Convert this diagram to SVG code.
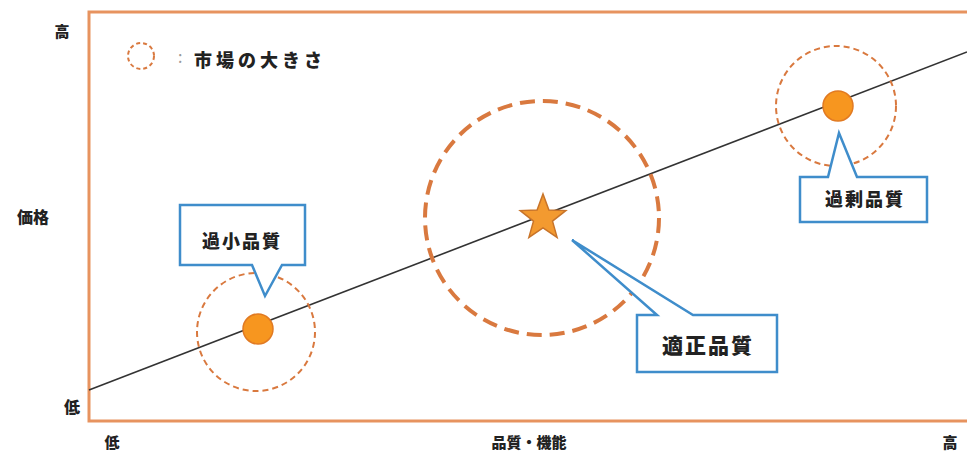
<svg xmlns="http://www.w3.org/2000/svg" width="967" height="454" viewBox="0 0 967 454">
<style>
.ax{font-family:"Noto Sans CJK JP","Noto Sans",sans-serif;font-weight:900;fill:#222;text-anchor:middle}
.lbl{font-family:"Noto Sans CJK JP","Noto Sans",sans-serif;font-weight:900;fill:#222;text-anchor:middle;letter-spacing:2px}
.call{fill:#fff;stroke:#3F8DCB;stroke-width:2.5;stroke-linejoin:miter}
.mkt{fill:none;stroke:#D9793F}
.dot{fill:#F7961F;stroke:#E17A22;stroke-width:1.5}
</style>
<rect x="0" y="0" width="967" height="454" fill="#fff"/>
<g id="frame">
<rect x="89" y="12" width="900" height="409" fill="#fff" stroke="#E7935F" stroke-width="3"/>
</g>
<g id="axis-labels">
<text class="ax" x="62" y="37" font-size="15">高</text>
<text class="ax" x="33" y="223" font-size="16">価格</text>
<text class="ax" x="72" y="413" font-size="16">低</text>
<text class="ax" x="112" y="448" font-size="15">低</text>
<text class="ax" x="529" y="448" font-size="15">品質・機能</text>
<text class="ax" x="950" y="448" font-size="15">高</text>
</g>
<g id="legend">
<circle cx="141" cy="56" r="13" class="mkt" stroke-width="2" stroke-dasharray="4 3"/>
<text x="178" y="63" font-family="Noto Sans CJK JP,sans-serif" font-size="16" fill="#999">:</text>
<text x="194" y="67" font-family="Noto Sans CJK JP,sans-serif" font-weight="900" font-size="18" fill="#222" letter-spacing="4">市場の大きさ</text>
</g>
<g id="connectors">
<line x1="89" y1="390" x2="967" y2="52" stroke="#333" stroke-width="1.6"/>
</g>
<g id="market-low">
<circle cx="256" cy="332" r="59" class="mkt" stroke-width="2" stroke-dasharray="6 4"/>
<circle cx="258" cy="329" r="15" class="dot"/>
</g>
<g id="market-mid">
<circle cx="542" cy="218" r="117" class="mkt" stroke-width="4" stroke-dasharray="15 8"/>
<polygon points="543,194 548.9,209.9 565.8,210.6 552.5,221.1 557.1,237.4 543,228 528.9,237.4 533.5,221.1 520.2,210.6 537.1,209.9" fill="#F39A30" stroke="#C8742A" stroke-width="1.5"/>
</g>
<g id="market-high">
<circle cx="836" cy="106" r="60" class="mkt" stroke-width="2" stroke-dasharray="6 4"/>
<circle cx="838" cy="106" r="15" class="dot"/>
</g>
<g id="callout-under">
<path class="call" d="M180,205 H305 V265 H282 L265,296 L252,265 H180 Z"/>
<text class="lbl" x="242" y="248" font-size="18">過小品質</text>
</g>
<g id="callout-right">
<path class="call" d="M637,315 H657 L572,240 L693,315 H777 V372 H637 Z"/>
<text class="lbl" x="708" y="353" font-size="21">適正品質</text>
</g>
<g id="callout-over">
<path class="call" d="M800,177 H828 L839,133 L857,177 H927 V222 H800 Z"/>
<text class="lbl" x="865" y="206" font-size="18">過剰品質</text>
</g>
</svg>
